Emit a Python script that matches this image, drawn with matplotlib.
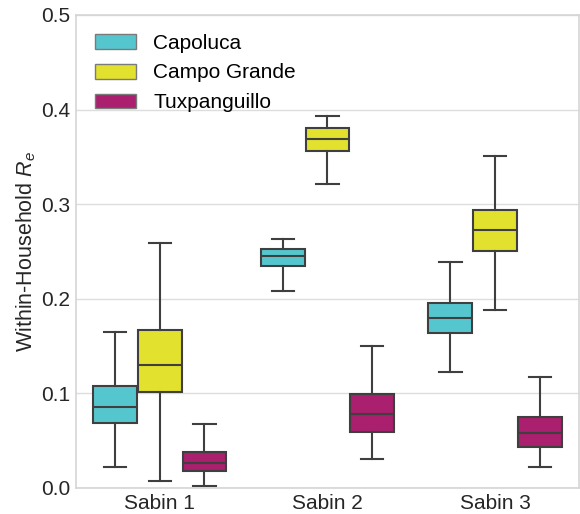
import matplotlib
matplotlib.use("Agg")
import matplotlib.pyplot as plt
from matplotlib.patches import Patch

plt.rcParams['font.family'] = ['Liberation Sans', 'DejaVu Sans']
plt.rcParams['mathtext.fontset'] = 'custom'
plt.rcParams['mathtext.it'] = 'Liberation Sans:italic'
plt.rcParams['mathtext.rm'] = 'Liberation Sans'

categories = ["Sabin 1", "Sabin 2", "Sabin 3"]
sites = ["Capoluca", "Campo Grande", "Tuxpanguillo"]
colors = ["#56C6CE", "#E2E22E", "#AA1F6E"]

# [whislo, q1, med, q3, whishi] per site, per category
stats_data = {
    "Capoluca": [
        [0.022, 0.069, 0.086, 0.108, 0.165],
        [0.2085, 0.2345, 0.2447, 0.253, 0.2636],
        [0.123, 0.1643, 0.1795, 0.195, 0.2385],
    ],
    "Campo Grande": [
        [0.0074, 0.1018, 0.130, 0.1665, 0.259],
        [0.321, 0.356, 0.369, 0.380, 0.393],
        [0.1876, 0.250, 0.273, 0.294, 0.351],
    ],
    "Tuxpanguillo": [
        [0.0024, 0.0183, 0.0268, 0.0385, 0.068],
        [0.0304, 0.0597, 0.0785, 0.0997, 0.150],
        [0.0226, 0.0435, 0.058, 0.075, 0.1177],
    ],
}

fig = plt.figure(figsize=(5.8, 5.14), dpi=100)
ax = fig.add_axes([0.131, 0.0506, 0.867, 0.9204])

edge = "#3f3f3f"
width = 0.8 / 3
for j, site in enumerate(sites):
    bstats = []
    for i, v in enumerate(stats_data[site]):
        bstats.append(dict(whislo=v[0], q1=v[1], med=v[2], q3=v[3], whishi=v[4], fliers=[]))
    positions = [i + (j - 1) * width for i in range(len(categories))]
    ax.bxp(bstats, positions=positions, widths=width * 0.98, patch_artist=True,
           showfliers=False, manage_ticks=False,
           boxprops=dict(facecolor=colors[j], edgecolor=edge, linewidth=1.5),
           medianprops=dict(color=edge, linewidth=1.5),
           whiskerprops=dict(color=edge, linewidth=1.5),
           capprops=dict(color=edge, linewidth=1.5),
           capwidths=width * 0.5)

ax.set_xlim(-0.5, 2.5)
ax.set_ylim(0, 0.5)
ax.set_xticks(range(len(categories)))
ax.set_xticklabels(categories)
ax.set_yticks([0.0, 0.1, 0.2, 0.3, 0.4, 0.5])
ax.set_yticklabels(["0.0", "0.1", "0.2", "0.3", "0.4", "0.5"])
ax.tick_params(axis='both', length=0, labelsize=15, colors="#262626", pad=4)
ax.set_ylabel("Within-Household $R_e$", fontsize=15.5, color="#262626", labelpad=2)
ax.yaxis.grid(True, color="#dddddd", linewidth=1)
ax.set_axisbelow(True)
for s in ax.spines.values():
    s.set_color("#d5d5d5")
    s.set_linewidth(1.2)

handles = [Patch(facecolor=c, edgecolor="#7a7a7a", label=s) for s, c in zip(sites, colors)]
ax.legend(handles=handles, loc="upper left", frameon=False, fontsize=15,
          handlelength=2.0, handleheight=0.72, labelspacing=0.52, handletextpad=0.8,
          bbox_to_anchor=(0.0, 1.0), borderaxespad=0.5)

fig.savefig("out.png", dpi=100)
